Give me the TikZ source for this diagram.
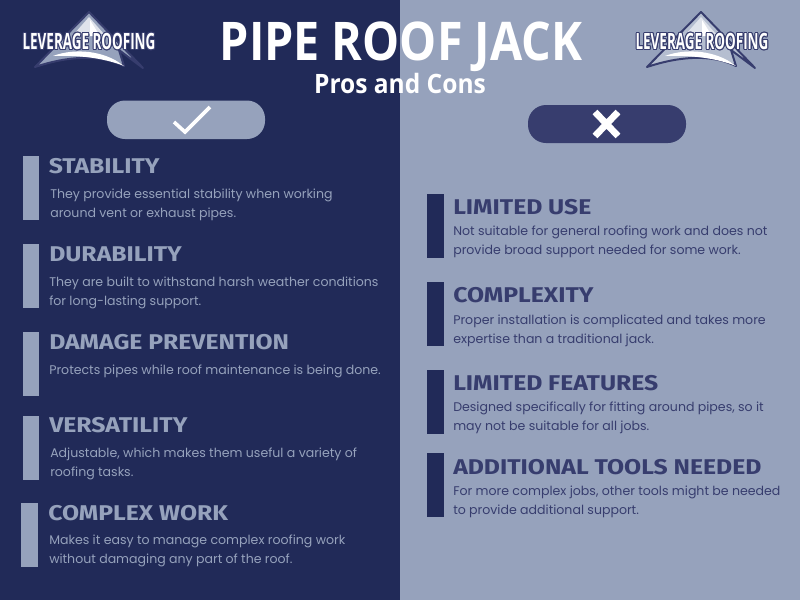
\documentclass[tikz,border=0pt]{standalone}
\usepackage{fontspec}
\usepackage{contour}
\setmainfont{Poppins}
\newfontfamily\headfont[FakeStretch=1.16]{Fira Sans}
\newfontfamily\titlefont[FakeStretch=0.875]{Open Sans}
\newfontfamily\subtitlefont[FakeStretch=0.92]{Open Sans}
\newfontfamily\logofont[FakeStretch=0.6]{Open Sans}
\usetikzlibrary{positioning}
\definecolor{navy}{HTML}{212A58}
\definecolor{steel}{HTML}{96A2BC}
\definecolor{slate}{HTML}{373D6E}
\contourlength{0.7pt}
\tikzset{
  heading/.style={anchor=base west, inner sep=0pt, font=\headfont\fontsize{16}{18}\selectfont\bfseries},
  body/.style={anchor=north west, inner sep=0pt, align=left, font=\fontsize{9.42}{14.25}\selectfont},
  proshead/.style={heading, text=steel},
  prosbody/.style={body, text=steel},
  conshead/.style={heading, text=slate},
  consbody/.style={body, text=slate},
  logotext/.style={anchor=base, inner sep=0pt, text=white, font=\logofont\fontsize{16.8}{18}\selectfont\bfseries},
  bar/.style={minimum width=16.4*0.75pt, minimum height=64*0.75pt, inner sep=0pt, anchor=north west},
}
% apex at the origin of the scope: line colour, fill colour
\newcommand{\roofmark}[2]{
  \draw[#1, fill=#2, line width=1.5pt, line join=round] (0,0) -- (54,56) -- (30,38) -- (35,54) .. controls (15,44) and (-15,42) .. (-54,55) -- cycle;
  \fill[white] (-36,44) .. controls (-15,36) and (15,38) .. (35,54) .. controls (15,46) and (-10,43) .. cycle;
  \fill[white!70!steel] (0,5) -- (-15,22) -- (15,22) -- cycle;
  \fill[white] (1,8) -- (11,24) -- (1,24) -- cycle;
}
\begin{document}
\begin{tikzpicture}[x=0.75pt, y=-0.75pt]
  \useasboundingbox (0,0) rectangle (800,600);
  \fill[navy] (0,0) rectangle (400,600);
  \fill[steel] (400,0) rectangle (800,600);

  % logos
  \begin{scope}[shift={(89,12)}]
    \roofmark{slate}{steel}
  \end{scope}
  \node[logotext] (logoL) at (89,49.5) {\contour{slate}{LEVERAGE ROOFING}};
  \begin{scope}[shift={(701,12)}]
    \roofmark{slate}{steel!70!white}
  \end{scope}
  \node[logotext] (logoR) at (702,49.5) {\contour{slate}{LEVERAGE ROOFING}};

  \node[anchor=base, inner sep=0pt, text=white, font=\titlefont\fontsize{40}{44}\selectfont\bfseries] (title) at (401,60) {PIPE ROOF JACK};
  \node[anchor=base, inner sep=0pt, text=white, font=\subtitlefont\fontsize{20}{22}\selectfont\bfseries] (subtitle) at (400,93) {Pros and Cons};

  % badges
  \fill[steel, rounded corners=13.5pt] (107,100.5) rectangle (265,139);
  \draw[white, line width=2.7pt] (174,122) -- (185,132) -- (210,107);
  \fill[slate, rounded corners=13.5pt] (528,105) rectangle (686,143);
  \draw[white, line width=5pt] (595,112) -- (618,136) (618,112) -- (595,136);

  % pros
  \node[bar, fill=steel] (stabilitybar) at (22.3,156) {};
  \node[proshead] (stabilityhead) at (48.5,173) {STABILITY};
  \node[prosbody] (stabilitybody) at (50,188.8) {They provide essential stability when working\\around vent or exhaust pipes.};
  \node[bar, fill=steel] (durabilitybar) at (22.3,244) {};
  \node[proshead] (durabilityhead) at (49,261.7) {DURABILITY};
  \node[prosbody] (durabilitybody) at (49,276.5) {They are built to withstand harsh weather conditions\\for long-lasting support.};
  \node[bar, fill=steel] (damagebar) at (22.3,332) {};
  \node[proshead] (damagehead) at (49,349) {DAMAGE PREVENTION};
  \node[prosbody] (damagebody) at (49,364.5) {Protects pipes while roof maintenance is being done.};
  \node[bar, fill=steel] (versatilebar) at (22.3,415.5) {};
  \node[proshead] (versatilehead) at (49,432.7) {VERSATILITY};
  \node[prosbody] (versatilebody) at (50,447.8) {Adjustable, which makes them useful a variety of\\roofing tasks.};
  \node[bar, fill=steel] (complexbar) at (21,503) {};
  \node[proshead] (complexhead) at (48,520.7) {COMPLEX WORK};
  \node[prosbody] (complexbody) at (49,534.8) {Makes it easy to manage complex roofing work\\without damaging any part of the roof.};

  % cons
  \node[bar, fill=navy] (limitedbar) at (427,193.7) {};
  \node[conshead] (limitedhead) at (453,214.7) {LIMITED USE};
  \node[consbody] (limitedbody) at (453,225.5) {Not suitable for general roofing work and does not\\provide broad support needed for some work.};
  \node[bar, fill=navy] (complexitybar) at (427,282) {};
  \node[conshead] (complexityhead) at (453,302.7) {COMPLEXITY};
  \node[consbody] (complexitybody) at (453,314.5) {Proper installation is complicated and takes more\\expertise than a traditional jack.};
  \node[bar, fill=navy] (featuresbar) at (427,370) {};
  \node[conshead] (featureshead) at (453,390.7) {LIMITED FEATURES};
  \node[consbody] (featuresbody) at (453,401.5) {Designed specifically for fitting around pipes, so it\\may not be suitable for all jobs.};
  \node[bar, fill=navy] (toolsbar) at (427,453) {};
  \node[conshead] (toolshead) at (453,474) {ADDITIONAL TOOLS NEEDED};
  \node[consbody] (toolsbody) at (453,485.5) {For more complex jobs, other tools might be needed\\to provide additional support.};
\end{tikzpicture}
\end{document}
